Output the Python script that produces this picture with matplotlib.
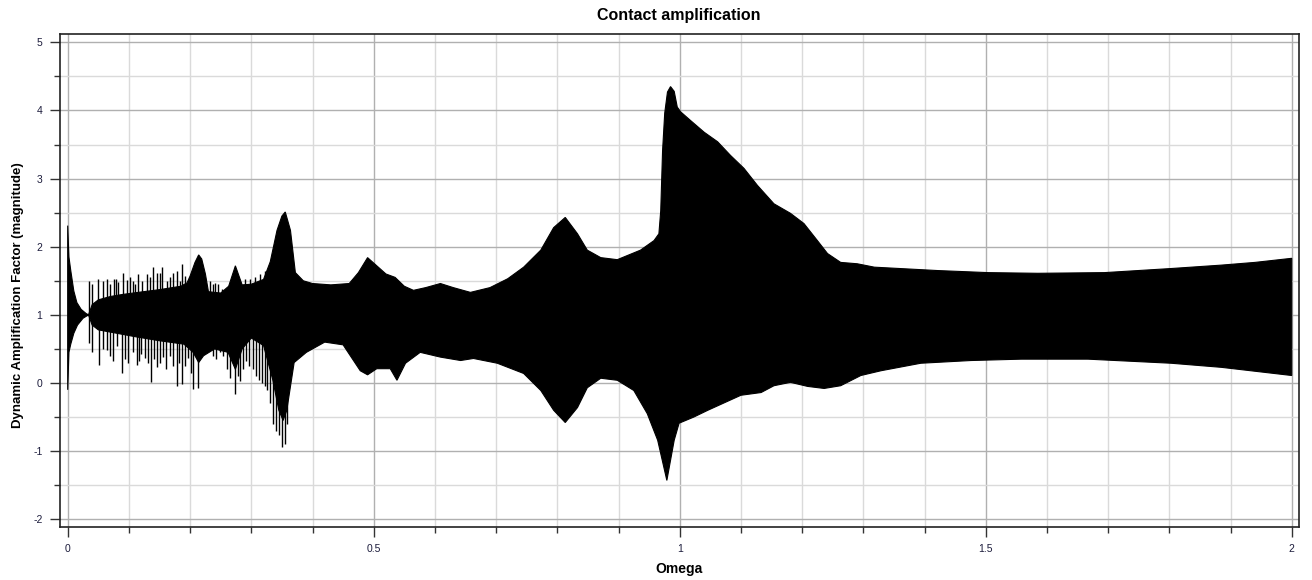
import numpy as np
import matplotlib
matplotlib.use("Agg")
import matplotlib.pyplot as plt
from matplotlib.ticker import MultipleLocator

plt.rcParams['font.family'] = ['Liberation Sans', 'DejaVu Sans']

# Upper boundary of the solid response band (Omega, DAF)
upper_omega = [0.000, 0.002, 0.005, 0.010, 0.015, 0.022, 0.030, 0.034, 0.040, 0.050,
               0.070, 0.090, 0.115, 0.150, 0.185, 0.195, 0.200, 0.208, 0.214, 0.219,
               0.225, 0.230, 0.250, 0.263, 0.274, 0.285, 0.300, 0.320, 0.331, 0.342,
               0.350, 0.3555, 0.364, 0.372, 0.385, 0.400, 0.430, 0.460, 0.475, 0.490,
               0.505, 0.520, 0.535, 0.550, 0.565, 0.585, 0.609, 0.630, 0.658, 0.690,
               0.719, 0.745, 0.773, 0.794, 0.813, 0.833, 0.849, 0.871, 0.898, 0.936,
               0.958, 0.966, 0.969, 0.972, 0.9755, 0.980, 0.985, 0.991, 0.996, 1.0015,
               1.018, 1.040, 1.062, 1.083, 1.105, 1.127, 1.154, 1.181, 1.203, 1.225,
               1.2415, 1.263, 1.290, 1.318, 1.422, 1.504, 1.585, 1.694, 1.803, 1.885,
               1.940, 2.000]
upper_val = [2.31, 1.85, 1.65, 1.35, 1.18, 1.08, 1.02, 1.00, 1.15, 1.22,
             1.27, 1.30, 1.33, 1.37, 1.42, 1.47, 1.57, 1.77, 1.88, 1.82,
             1.60, 1.34, 1.32, 1.42, 1.72, 1.44, 1.45, 1.52, 1.78, 2.24,
             2.45, 2.51, 2.24, 1.62, 1.50, 1.46, 1.44, 1.46, 1.62, 1.84,
             1.72, 1.60, 1.55, 1.42, 1.36, 1.40, 1.46, 1.40, 1.33, 1.40,
             1.53, 1.70, 1.95, 2.28, 2.43, 2.19, 1.95, 1.84, 1.81, 1.95,
             2.09, 2.19, 2.53, 3.41, 3.96, 4.27, 4.35, 4.28, 4.05, 3.98,
             3.85, 3.68, 3.54, 3.34, 3.15, 2.90, 2.63, 2.49, 2.34, 2.09,
             1.90, 1.77, 1.75, 1.70, 1.65, 1.62, 1.61, 1.62, 1.68, 1.73,
             1.77, 1.83]

# Lower boundary of the solid response band
lower_omega = [0.000, 0.002, 0.005, 0.010, 0.016, 0.025, 0.034, 0.040, 0.050, 0.080,
               0.110, 0.150, 0.190, 0.205, 0.214, 0.222, 0.240, 0.262, 0.274, 0.285,
               0.300, 0.320, 0.335, 0.345, 0.352, 0.358, 0.364, 0.370, 0.390, 0.420,
               0.450, 0.478, 0.490, 0.505, 0.527, 0.538, 0.552, 0.576, 0.609, 0.642,
               0.663, 0.702, 0.745, 0.773, 0.794, 0.813, 0.833, 0.849, 0.871, 0.898,
               0.925, 0.947, 0.964, 0.979, 0.991, 0.999, 1.023, 1.046, 1.100, 1.133,
               1.154, 1.181, 1.209, 1.236, 1.263, 1.296, 1.329, 1.394, 1.476, 1.558,
               1.667, 1.803, 1.885, 2.000]
lower_val = [-0.10, 0.45, 0.57, 0.73, 0.85, 0.95, 1.00, 0.85, 0.78, 0.73,
             0.68, 0.62, 0.57, 0.45, 0.30, 0.40, 0.50, 0.45, 0.20, 0.50,
             0.66, 0.55, 0.05, -0.40, -0.55, -0.40, -0.05, 0.30, 0.45, 0.60,
             0.56, 0.18, 0.12, 0.21, 0.21, 0.04, 0.29, 0.45, 0.38, 0.33,
             0.36, 0.29, 0.14, -0.11, -0.40, -0.58, -0.36, -0.07, 0.07, 0.04,
             -0.11, -0.45, -0.84, -1.43, -0.84, -0.59, -0.50, -0.40, -0.18, -0.14,
             -0.04, 0.01, -0.05, -0.08, -0.04, 0.11, 0.18, 0.29, 0.33, 0.35,
             0.35, 0.29, 0.23, 0.11]

# Individual response peaks above the band at low Omega
peak_up_omega = [0.035, 0.040, 0.050, 0.057, 0.064, 0.069, 0.075, 0.079, 0.083, 0.091,
                 0.0965, 0.101, 0.106, 0.110, 0.1155, 0.121, 0.129, 0.134, 0.139, 0.146,
                 0.150, 0.154, 0.162, 0.167, 0.172, 0.178, 0.183, 0.1875, 0.192, 0.233,
                 0.237, 0.241, 0.246, 0.252, 0.257, 0.290, 0.298, 0.306, 0.314, 0.323]
peak_up_val = [1.50, 1.45, 1.52, 1.50, 1.53, 1.45, 1.53, 1.52, 1.48, 1.61,
               1.51, 1.55, 1.50, 1.45, 1.60, 1.49, 1.60, 1.55, 1.70, 1.61,
               1.62, 1.70, 1.49, 1.56, 1.62, 1.65, 1.50, 1.75, 1.57, 1.49,
               1.45, 1.47, 1.45, 1.38, 1.36, 1.53, 1.52, 1.55, 1.60, 1.65]

# Individual response troughs below the band at low Omega
peak_dn_omega = [0.035, 0.040, 0.051, 0.057, 0.064, 0.069, 0.074, 0.080, 0.088, 0.093,
                 0.099, 0.106, 0.113, 0.116, 0.120, 0.126, 0.131, 0.136, 0.141, 0.146,
                 0.151, 0.156, 0.161, 0.167, 0.172, 0.178, 0.182, 0.1865, 0.192, 0.197,
                 0.201, 0.2055, 0.2137, 0.238, 0.243, 0.249, 0.254, 0.260, 0.2655, 0.274,
                 0.278, 0.282, 0.287, 0.292, 0.297, 0.302, 0.307, 0.312, 0.317, 0.322,
                 0.326, 0.331, 0.336, 0.3405, 0.3445, 0.350, 0.3555, 0.359]
peak_dn_val = [0.58, 0.45, 0.26, 0.50, 0.49, 0.40, 0.33, 0.55, 0.14, 0.35,
               0.29, 0.45, 0.26, 0.33, 0.42, 0.36, 0.30, 0.01, 0.35, 0.24,
               0.30, 0.38, 0.20, 0.40, 0.25, -0.04, 0.30, -0.02, 0.25, 0.36,
               0.15, -0.09, -0.08, 0.40, 0.35, 0.45, 0.40, 0.20, 0.07, -0.16,
               0.10, 0.03, 0.20, 0.33, 0.25, 0.20, 0.10, 0.05, 0.00, -0.05,
               -0.11, -0.30, -0.60, -0.70, -0.77, -0.94, -0.90, -0.60]

x_major = [0, 0.5, 1, 1.5, 2]
x_labels = ['0', '0.5', '1', '1.5', '2']
y_major = [-2, -1, 0, 1, 2, 3, 4, 5]
y_labels = ['-2', '-1', '0', '1', '2', '3', '4', '5']

W, H = 1312, 580
fig = plt.figure(figsize=(W / 100, H / 100), dpi=100)
ax = fig.add_axes([59.5 / W, 1 - 526.7 / H, (1299 - 59.5) / W, (526.7 - 34) / H])

ax.set_xlim(-0.0134, 2.0119)
ax.set_ylim(-2.109, 5.122)

ax.xaxis.set_major_locator(MultipleLocator(0.5))
ax.xaxis.set_minor_locator(MultipleLocator(0.1))
ax.yaxis.set_major_locator(MultipleLocator(1))
ax.yaxis.set_minor_locator(MultipleLocator(0.5))
ax.set_xticks(x_major)
ax.set_xticklabels(x_labels)
ax.set_yticks(y_major)
ax.set_yticklabels(y_labels)

ax.grid(which='major', color='#b0b0b0', lw=1.0)
ax.grid(which='minor', color='#dadada', lw=1.0)
ax.set_axisbelow(True)

tick_col = '#1c1c3c'
ax.tick_params(which='major', direction='out', length=7.2, width=1.0, color='#333333',
               labelsize=7.5, labelcolor=tick_col, pad=5)
ax.tick_params(which='minor', direction='out', length=4.3, width=1.0, color='#333333')

for s in ax.spines.values():
    s.set_color('#222222')
    s.set_linewidth(1.2)

# Solid response band
band_x = np.concatenate([upper_omega, lower_omega[::-1]])
band_y = np.concatenate([upper_val, lower_val[::-1]])
ax.fill(band_x, band_y, color='black', lw=0.8, zorder=3)

# Isolated peaks and troughs
ax.vlines(peak_up_omega, 1.0, peak_up_val, color='black', lw=1.0, zorder=3)
ax.vlines(peak_dn_omega, 1.0, peak_dn_val, color='black', lw=1.0, zorder=3)

ax.set_title('Contact amplification', fontsize=11.5, fontweight='bold', pad=10)
ax.set_xlabel('Omega', fontsize=10, fontweight='bold', labelpad=6)
ax.set_ylabel('Dynamic Amplification Factor (magnitude)', fontsize=9.5, fontweight='bold')
ax.yaxis.set_label_coords(-0.029, 0.47)

fig.savefig('out.png', dpi=100)
